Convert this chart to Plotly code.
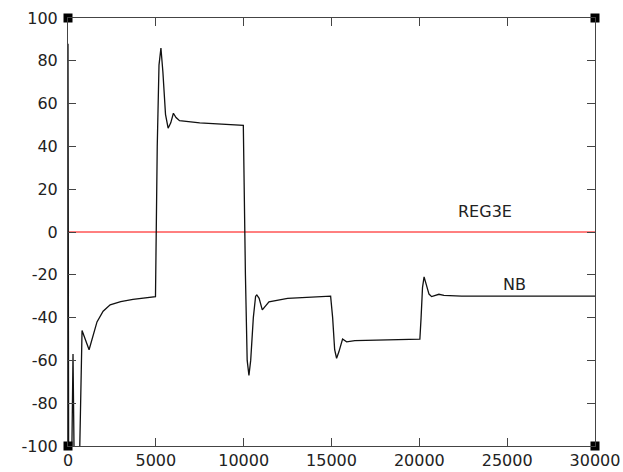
import plotly.graph_objects as go

# NB series (time, value)
nb_t = [0, 40, 180, 285, 380, 600, 800, 1200, 1650, 2000, 2400, 3000, 3700, 4500, 4980,
        5080, 5180, 5290, 5400, 5550, 5700, 5850, 6000, 6150, 6350, 7500, 8700, 9980,
        10100, 10200, 10300, 10400, 10550, 10680, 10750, 10880, 11060, 11200, 11440, 12500, 13770, 14950,
        15065, 15180, 15290, 15420, 15630, 15860, 16330, 17760, 20030,
        20100, 20180, 20270, 20400, 20550, 20700, 20900, 21115, 21400, 22400, 30000]
nb_v = [88, -130, -130, -57, -130, -130, -46, -55, -42, -37, -34, -32.5, -31.5, -30.6, -30.2,
        40, 78, 86, 75, 55, 48.5, 51, 55.5, 53.5, 52, 51, 50.3, 49.8,
        -20, -60, -67, -60, -40, -30, -29.4, -31, -36.4, -35, -32.6, -31, -30.5, -30,
        -40, -55, -59, -56, -50, -51.3, -50.8, -50.5, -50.1,
        -40, -26, -21, -25, -29, -30.2, -29.8, -29.1, -29.6, -30, -30]

# REG3E series
reg_t = [0, 30000]
reg_v = [0, 0]

x_ticks = [0, 5000, 10000, 15000, 20000, 25000, 30000]
y_ticks = [-100, -80, -60, -40, -20, 0, 20, 40, 60, 80, 100]

labels = ["REG3E", "NB"]
label_t = [23730, 25440]
label_v = [9.5, -24.3]

corner_t = [0, 30000, 0, 30000]
corner_v = [100, 100, -100, -100]

FONT = "DejaVu Sans"

fig = go.Figure()
fig.add_trace(go.Scatter(x=reg_t, y=reg_v, mode="lines",
                         line=dict(color="#ff0000", width=1), showlegend=False))
fig.add_trace(go.Scatter(x=nb_t, y=nb_v, mode="lines",
                         line=dict(color="#111111", width=1.3), showlegend=False))
fig.add_trace(go.Scatter(x=corner_t, y=corner_v, mode="markers",
                         marker=dict(symbol="square", size=9, color="black"),
                         cliponaxis=False, showlegend=False))
for txt, t, v in zip(labels, label_t, label_v):
    fig.add_annotation(x=t, y=v, text=txt, showarrow=False,
                       font=dict(family=FONT, size=16, color="#222"))

axis_common = dict(showgrid=False, zeroline=False, showline=True, linecolor="#444",
                   linewidth=1, ticks="inside", ticklen=8, tickcolor="#444",
                   mirror="allticks", automargin=False,
                   tickfont=dict(family=FONT, size=16, color="#222"))
fig.update_xaxes(range=[0, 30000], tickvals=x_ticks,
                 ticktext=[str(v) for v in x_ticks], **axis_common)
fig.update_yaxes(range=[-100, 100], tickvals=y_ticks,
                 ticktext=[str(v) for v in y_ticks], ticklabelstandoff=6, **axis_common)
fig.update_layout(width=623, height=472, margin=dict(l=68, r=28, t=18, b=26),
                  plot_bgcolor="white", paper_bgcolor="white")
fig.write_html("out.html")
